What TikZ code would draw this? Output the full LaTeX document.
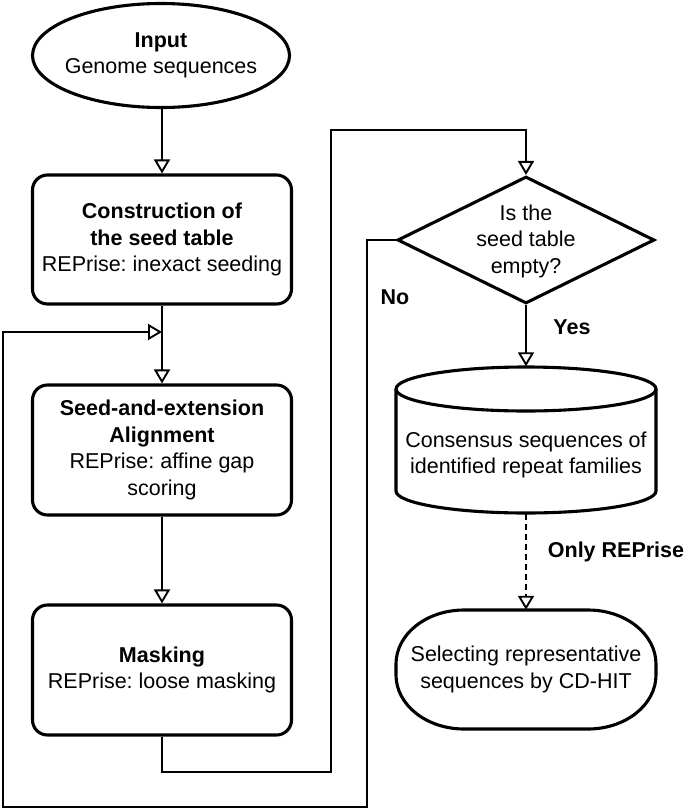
\documentclass[tikz,border=0pt]{standalone}
\usepackage{fontspec}
\setmainfont{Liberation Sans}
\frenchspacing
\usetikzlibrary{arrows.meta,shapes.geometric}
\begin{document}
\begin{tikzpicture}[x=1pt,y=-1pt,
  txt/.style={font=\fontsize{21.5}{26.5}\selectfont, align=center, inner sep=0pt},
  shapeline/.style={draw, line width=3.1pt},
  boxstyle/.style={shapeline, rounded corners=15pt, minimum width=259pt, minimum height=129pt, txt},
  conn/.style={line width=1.9pt, -{Triangle[open, length=14pt, width=16pt, line width=1.9pt]}},
  lbl/.style={font=\fontsize{21.5}{26.5}\selectfont\bfseries, inner sep=0pt}
]
\useasboundingbox (0,0) rectangle (685,809);

% left column
\node[shapeline, ellipse, minimum width=257pt, minimum height=104pt, inner sep=0pt] (input) at (161,55.5) {};
\node[txt] (inputtxt) at (input.center) {\textbf{Input}\\Genome sequences};

\node[boxstyle] (seed) at (162,239.5) {\textbf{Construction of}\\\textbf{the seed table}\\REPrise: inexact seeding};
\node[boxstyle, minimum height=130pt] (align) at (162,450) {\textbf{Seed-and-extension}\\\textbf{Alignment}\\REPrise: affine gap\\scoring};
\node[boxstyle, minimum height=130pt] (mask) at (162,670) {\textbf{Masking}\\REPrise: loose masking};

% right column
\node[shapeline, diamond, minimum width=257pt, minimum height=127pt, inner sep=0pt] (dia) at (526,240) {};
\node[txt] (diatxt) at (526,241) {Is the\\seed table\\empty?};

\node[minimum width=260pt, minimum height=147pt, inner sep=0pt] (cyl) at (526,440) {};
\draw[line width=3.1pt] (396,389) -- (396,491) arc[start angle=180, end angle=0, x radius=130, y radius=22] -- (656,389);
\draw[line width=3.1pt] (526,389) ellipse[x radius=130, y radius=22];
\node[txt] (cyltxt) at (526,455) {Consensus sequences of\\identified repeat families};

\node[minimum width=260pt, minimum height=119pt, inner sep=0pt] (term) at (526,669.5) {};
\draw[line width=3.1pt] (464,610) -- (588,610)
  arc[start angle=-90, end angle=0, x radius=68, y radius=54] -- (656,675)
  arc[start angle=0, end angle=90, x radius=68, y radius=54] -- (464,729)
  arc[start angle=90, end angle=180, x radius=68, y radius=54] -- (396,664)
  arc[start angle=180, end angle=270, x radius=68, y radius=54] -- cycle;
\node[txt] (termtxt) at (term.center) {Selecting representative\\sequences by CD-HIT};

% connectors
\draw[conn] (input.south -| seed.north) -- (seed.north);
\draw[conn] (seed.south) -- (align.north);
\draw[conn] (align.south) -- (mask.north);

\coordinate (la) at (331,772);
\coordinate (lb) at (331,130);
\draw[conn] (mask.south) |- (la) -- (lb) -| (dia.north);

\coordinate (na) at (367,807);
\coordinate (nb) at (3,807);
\coordinate (nc) at (3,332);
\coordinate (nd) at (seed.south |- nc);
\draw[conn] (dia.west) -| (na) -- (nb) -- (nc) -- (nd);

\draw[conn] (dia.south) -- (cyl.north);
\draw[conn, dash pattern=on 6pt off 4pt] (cyl.south) -- (term.north);

% labels
\node[lbl] (no) at (395,297) {No};
\node[lbl] (yes) at (572,327) {Yes};
\node[lbl] (only) at (616,552) {Only REPrise};
\end{tikzpicture}
\end{document}
